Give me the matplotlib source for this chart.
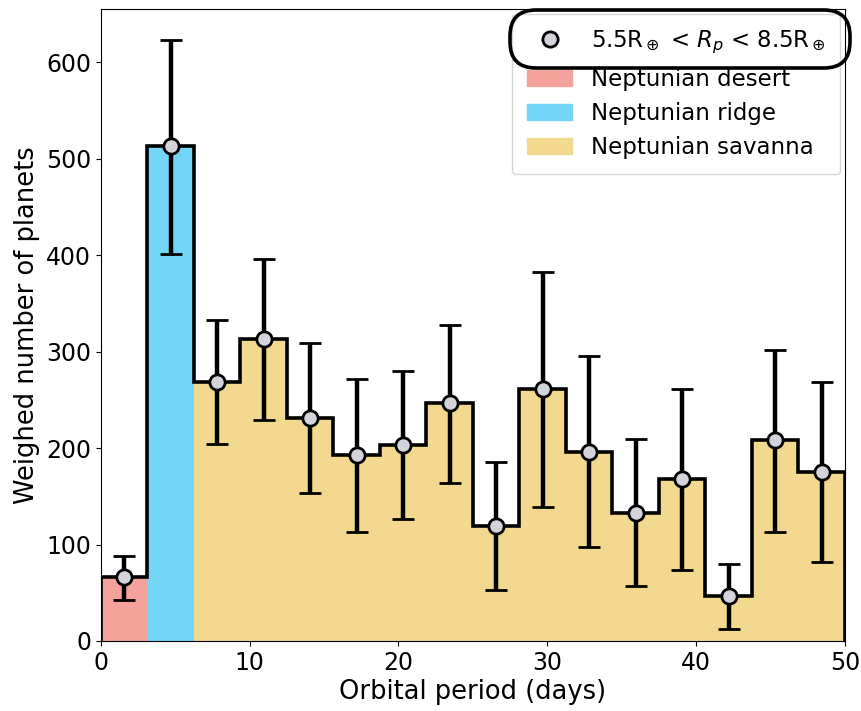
import numpy as np
import matplotlib
matplotlib.use("Agg")
import matplotlib.pyplot as plt
from matplotlib.patches import Patch, FancyBboxPatch
from matplotlib.lines import Line2D
from matplotlib.transforms import IdentityTransform

# period bins (days) and weighted counts for 5.5 < Rp < 8.5 Earth radii
edges = np.linspace(0, 50, 17)
counts = [66, 513, 269, 313, 231, 193, 203, 247, 119, 261, 196, 133, 168, 47, 208, 175]
err_low = [42, 401, 204, 229, 153, 113, 126, 164, 53, 139, 97, 57, 74, 12, 113, 82]
err_high = [88, 623, 333, 396, 309, 272, 280, 328, 186, 383, 295, 209, 261, 80, 302, 268]

regions = ["Neptunian desert", "Neptunian ridge", "Neptunian savanna"]
region_bins = [(0, 1), (1, 2), (2, 16)]
region_colors = ["#f4a29b", "#74d5f7", "#f2d98f"]

counts = np.array(counts, dtype=float)
centers = 0.5 * (edges[:-1] + edges[1:])
yerr = [counts - np.array(err_low), np.array(err_high) - counts]

fig = plt.figure(figsize=(8.62, 7.11), dpi=100)
ax = fig.add_axes([0.117, 0.0985, 0.863, 0.8885])

for (i0, i1), c in zip(region_bins, region_colors):
    ax.stairs(counts[i0:i1], edges[i0:i1 + 1], fill=True, color=c, lw=0)

ax.stairs(counts, edges, color="black", lw=2.6, baseline=0)
ax.errorbar(centers, counts, yerr=yerr, fmt="o", color="black", ms=11,
            mfc="#d3d3dc", mec="black", mew=2, elinewidth=3.2, capsize=8,
            capthick=2.5, zorder=5)

ax.set_xlim(0, 50)
ax.set_ylim(0, 655)
ax.set_xlabel("Orbital period (days)", fontsize=18.5, labelpad=3)
ax.set_ylabel("Weighed number of planets", fontsize=18.5, labelpad=4)
ax.tick_params(labelsize=17)

handles = [Line2D([], [], ls="none", marker="o", ms=11, mfc="#d3d3dc",
                  mec="black", mew=2)]
handles += [Patch(color=c) for c in region_colors]
labels = [r"5.5R$_\oplus$ < $R_p$ < 8.5R$_\oplus$"] + regions
ax.legend(handles, labels, loc="upper right", fontsize=16.5,
          borderaxespad=0.2, borderpad=0.65, handlelength=2.0,
          labelspacing=0.5)

# outline around the first legend entry
box = FancyBboxPatch((510, 643), 340, 58,
                     boxstyle="round,pad=0,rounding_size=26",
                     transform=IdentityTransform(), fill=False,
                     ec="black", lw=2.6, clip_on=False)
fig.add_artist(box)

fig.savefig("out.png", dpi=100)
